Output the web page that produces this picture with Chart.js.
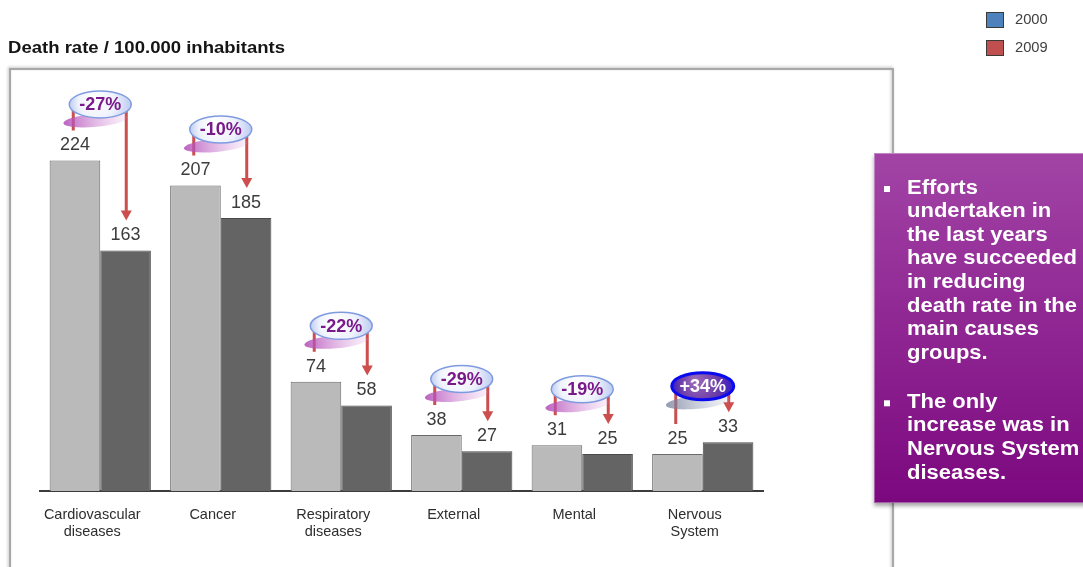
<!DOCTYPE html>
<html>
<head>
<meta charset="utf-8">
<script src="https://cdn.jsdelivr.net/npm/chart.js@4/dist/chart.umd.min.js"></script>
<style>
  html, body { margin: 0; padding: 0; background: #ffffff; }
  #wrap { position: relative; width: 1083px; height: 567px; overflow: hidden; }
  canvas { display: block; }
</style>
</head>
<body>
<div id="wrap"><canvas id="chart" width="1083" height="567"></canvas></div>
<script>
// Death rate per 100.000 inhabitants, by cause group
const categories = [
  ['Cardiovascular', 'diseases'],
  'Cancer',
  ['Respiratory', 'diseases'],
  'External',
  'Mental',
  ['Nervous', 'System']
];
const seriesNames = ['2000', '2009'];
const rate2000 = [224, 207, 74, 38, 31, 25];
const rate2009 = [163, 185, 58, 27, 25, 33];
const changeLabels = ['-27%', '-10%', '-22%', '-29%', '-19%', '+34%'];

const titleText = 'Death rate / 100.000 inhabitants';
const noteParagraphs = [
  ['Efforts', 'undertaken in', 'the last years', 'have succeeded', 'in reducing', 'death rate in the', 'main causes', 'groups.'],
  ['The only', 'increase was in', 'Nervous System', 'diseases.']
];

const FONT = '"Liberation Sans", Arial, Helvetica, sans-serif';
const legendSwatches = ['#4f81bd', '#c0504d'];
const arrowColor = '#cc4e4e';

function stretchedText(ctx, text, x, y, sx, align) {
  ctx.save();
  ctx.translate(x, y);
  ctx.scale(sx, 1);
  ctx.textAlign = align || 'left';
  ctx.fillText(text, 0, 0);
  ctx.restore();
}

// Frame, title, legend and side note around the plot
const decorations = {
  id: 'decorations',
  beforeDraw(chart) {
    const ctx = chart.ctx;
    ctx.save();
    ctx.fillStyle = '#ffffff';
    ctx.fillRect(0, 0, chart.width, chart.height);

    // framed panel
    ctx.shadowColor = 'rgba(0,0,0,0.25)';
    ctx.shadowBlur = 3;
    ctx.shadowOffsetX = -1;
    ctx.shadowOffsetY = -1;
    ctx.strokeStyle = '#a8a8a8';
    ctx.lineWidth = 2;
    ctx.strokeRect(10, 69, 883, 560);
    ctx.restore();

    // title
    ctx.save();
    ctx.fillStyle = '#151515';
    ctx.font = 'bold 17px ' + FONT;
    ctx.textBaseline = 'alphabetic';
    stretchedText(ctx, titleText, 8, 53, 1.09, 'left');
    ctx.restore();
  },
  afterDraw(chart) {
    const ctx = chart.ctx;

    // legend
    ctx.save();
    chart.data.datasets.forEach((ds, i) => {
      const y = 12 + i * 28;
      ctx.fillStyle = legendSwatches[i];
      ctx.fillRect(986, y, 18, 16);
      ctx.strokeStyle = '#3a3a3a';
      ctx.lineWidth = 1;
      ctx.strokeRect(986.5, y + 0.5, 17, 15);
      ctx.fillStyle = '#404040';
      ctx.font = '14px ' + FONT;
      ctx.textBaseline = 'middle';
      stretchedText(ctx, ds.label, 1015, y + 8.5, 1.05, 'left');
    });
    ctx.restore();

    // side note box
    ctx.save();
    const bx = 874, by = 153, bw = 220, bh = 350;
    ctx.shadowColor = 'rgba(0,0,0,0.35)';
    ctx.shadowBlur = 4;
    ctx.shadowOffsetX = 0;
    ctx.shadowOffsetY = 3;
    const g = ctx.createLinearGradient(0, by, 0, by + bh);
    g.addColorStop(0, '#a244a6');
    g.addColorStop(1, '#7c087f');
    ctx.fillStyle = g;
    ctx.fillRect(bx, by, bw, bh);
    ctx.shadowColor = 'transparent';
    ctx.strokeStyle = 'rgba(255,255,255,0.35)';
    ctx.lineWidth = 1;
    ctx.strokeRect(bx + 0.5, by + 0.5, bw, bh - 1);

    ctx.fillStyle = '#ffffff';
    ctx.font = 'bold 20px ' + FONT;
    ctx.textBaseline = 'middle';
    const lineH = 23.6;
    let y = 188;
    noteParagraphs.forEach((lines) => {
      ctx.fillRect(884, y - 2, 6, 6);
      lines.forEach((line) => {
        stretchedText(ctx, line, 907, y, 1.1, 'left');
        y += lineH;
      });
      y += 25.5;
    });
    ctx.restore();
  }
};

// Value labels above bars and change badges with arrows
const annotations = {
  id: 'annotations',
  afterDatasetsDraw(chart) {
    const ctx = chart.ctx;
    const yScale = chart.scales.y;
    const m0 = chart.getDatasetMeta(0);
    const m1 = chart.getDatasetMeta(1);

    // value labels
    ctx.save();
    ctx.fillStyle = '#3c3c3c';
    ctx.font = '18px ' + FONT;
    ctx.textAlign = 'center';
    ctx.textBaseline = 'middle';
    [m0, m1].forEach((meta, di) => {
      const values = chart.data.datasets[di].data;
      meta.data.forEach((bar, i) => {
        ctx.fillText(String(values[i]), bar.x, bar.y - 15);
      });
    });
    ctx.restore();

    // change badges
    categories.forEach((c, i) => {
      const a = rate2000[i], b = rate2009[i];
      const b0 = m0.data[i], b1 = m1.data[i];
      const cx = (b0.x + b1.x) / 2;
      const cy = yScale.getPixelForValue(Math.max(a, b)) - 56;
      const up = b > a;
      const lx = cx - 27, rx = cx + 26;
      const leftEnd = b0.y - 30;
      const tip = b1.y - 30;

      ctx.save();
      ctx.strokeStyle = arrowColor;
      ctx.fillStyle = arrowColor;
      ctx.lineWidth = 3;
      ctx.beginPath();
      ctx.moveTo(lx, cy);
      ctx.lineTo(lx, leftEnd);
      ctx.moveTo(rx, cy);
      ctx.lineTo(rx, tip - 9);
      ctx.stroke();
      ctx.beginPath();
      ctx.moveTo(rx - 5.5, tip - 10);
      ctx.lineTo(rx + 5.5, tip - 10);
      ctx.lineTo(rx, tip);
      ctx.closePath();
      ctx.fill();

      // soft shadow under the badge
      ctx.save();
      ctx.translate(cx - 5, cy + 16);
      ctx.rotate(-0.09);
      const sg = ctx.createLinearGradient(-32, 0, 32, 0);
      if (up) {
        sg.addColorStop(0, 'rgba(110,120,150,0.75)');
        sg.addColorStop(1, 'rgba(170,180,200,0.15)');
      } else {
        sg.addColorStop(0, 'rgba(175,70,180,0.85)');
        sg.addColorStop(1, 'rgba(220,160,225,0.15)');
      }
      ctx.fillStyle = sg;
      ctx.beginPath();
      ctx.ellipse(0, 0, 32, 6.5, 0, 0, Math.PI * 2);
      ctx.fill();
      ctx.restore();

      // badge
      const rg = ctx.createRadialGradient(cx - 8, cy - 6, 2, cx, cy, 32);
      if (up) {
        rg.addColorStop(0, '#9a6ab8');
        rg.addColorStop(0.6, '#6a3aa8');
        rg.addColorStop(1, '#2a1ad0');
      } else {
        rg.addColorStop(0, '#ffffff');
        rg.addColorStop(0.55, '#eef2fc');
        rg.addColorStop(1, '#b9c8f0');
      }
      ctx.fillStyle = rg;
      ctx.beginPath();
      ctx.ellipse(cx, cy, 31, 13.5, 0, 0, Math.PI * 2);
      ctx.fill();
      ctx.strokeStyle = up ? '#0a0aee' : '#7f9be0';
      ctx.lineWidth = up ? 3 : 1.5;
      ctx.stroke();

      ctx.fillStyle = up ? '#ffffff' : '#7a1a8a';
      ctx.font = 'bold 18px ' + FONT;
      ctx.textAlign = 'center';
      ctx.textBaseline = 'middle';
      ctx.fillText(changeLabels[i], cx, cy + 1);
      ctx.restore();
    });
  }
};

new Chart(document.getElementById('chart'), {
  type: 'bar',
  data: {
    labels: categories,
    datasets: [
      {
        label: seriesNames[0],
        data: rate2000,
        backgroundColor: '#bababa',
        borderColor: '#6a6a6a',
        borderWidth: 1,
        categoryPercentage: 0.84,
        barPercentage: 1
      },
      {
        label: seriesNames[1],
        data: rate2009,
        backgroundColor: '#646464',
        borderColor: '#4a4a4a',
        borderWidth: 1,
        categoryPercentage: 0.84,
        barPercentage: 1
      }
    ]
  },
  options: {
    responsive: false,
    devicePixelRatio: 1,
    animation: false,
    layout: { padding: { left: 40, right: 320, top: 122, bottom: 16 } },
    plugins: {
      legend: { display: false },
      tooltip: { enabled: false }
    },
    scales: {
      x: {
        grid: { display: false, drawTicks: false },
        border: { display: true, color: '#3c3c3c', width: 2 },
        ticks: {
          color: '#2e2e2e',
          font: { family: FONT, size: 14.5, lineHeight: 1.15 },
          padding: 16,
          labelOffset: -8,
          maxRotation: 0,
          autoSkip: false
        },
        afterFit(scale) { scale.height = 60; }
      },
      y: {
        display: false,
        min: 0,
        max: 250
      }
    }
  },
  plugins: [decorations, annotations]
});
</script>
</body>
</html>
